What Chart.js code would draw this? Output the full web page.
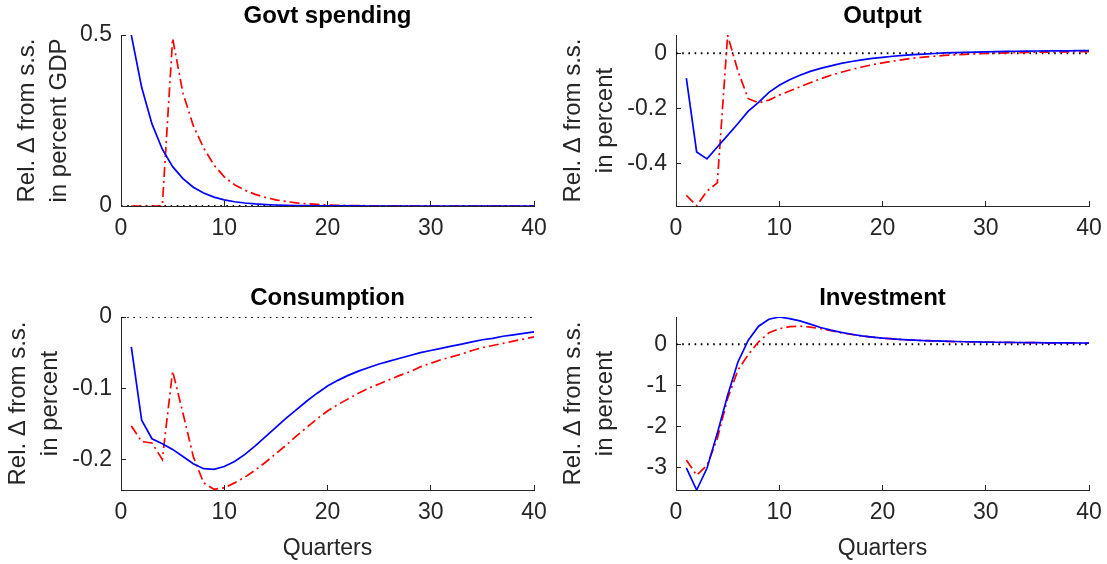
<!DOCTYPE html>
<html>
<head>
<meta charset="utf-8">
<script src="https://cdn.jsdelivr.net/npm/chart.js@4.4.1/dist/chart.umd.min.js"></script>
<style>
    body { margin: 0; background: #ffffff; }
    #fig { position: relative; width: 1107px; height: 564px; overflow: hidden; background: #ffffff; }
    #fig canvas { position: absolute; }
</style>
</head>
<body>
<div id="fig">
    <canvas id="govtChart" width="552" height="245" style="left:0px;top:0px;"></canvas>
    <canvas id="outputChart" width="552" height="245" style="left:555px;top:0px;"></canvas>
    <canvas id="consChart" width="552" height="282" style="left:0px;top:282px;"></canvas>
    <canvas id="invChart" width="552" height="282" style="left:555px;top:282px;"></canvas>
</div>
<script>
// Horizon (quarters)
const quarters = [1, 2, 3, 4, 5, 6, 7, 8, 9, 10, 11, 12, 13, 14, 15, 16, 17, 18, 19, 20,
    21, 22, 23, 24, 25, 26, 27, 28, 29, 30, 31, 32, 33, 34, 35, 36, 37, 38, 39, 40];
const xTicks = [0, 10, 20, 30, 40];

// Govt spending (blue = unanticipated, red = anticipated)
const govtBlue = [0.5, 0.347, 0.24, 0.166, 0.115, 0.08, 0.055, 0.038, 0.026, 0.018,
    0.0125, 0.0087, 0.006, 0.0042, 0.0029, 0.002, 0.0014, 0.001, 0.0007, 0.0005,
    0.0003, 0.0002, 0.0001, 0, 0, 0, 0, 0, 0, 0, 0, 0, 0, 0, 0, 0, 0, 0, 0, 0];
const govtRed = [0, 0, 0, 0, 0.49, 0.33, 0.235, 0.17, 0.12, 0.085,
    0.062, 0.046, 0.034, 0.025, 0.018, 0.013, 0.009, 0.0065, 0.0045, 0.003,
    0.002, 0.0014, 0.001, 0.0007, 0.0005, 0.0003, 0.0002, 0.0001, 0, 0, 0, 0, 0, 0, 0, 0, 0, 0, 0, 0];
const govtTicks = [0, 0.5];

// Output
const outputBlue = [-0.09, -0.358, -0.383, -0.34, -0.298, -0.255, -0.21, -0.178, -0.142, -0.116,
    -0.096, -0.08, -0.066, -0.055, -0.046, -0.037, -0.03, -0.024, -0.019, -0.015,
    -0.011, -0.008, -0.005, -0.003, -0.001, 0.001, 0.002, 0.003, 0.004, 0.005,
    0.006, 0.0065, 0.007, 0.0075, 0.008, 0.0082, 0.0085, 0.0088, 0.009, 0.009];
const outputRed = [-0.515, -0.554, -0.5, -0.47, 0.065, -0.065, -0.165, -0.18, -0.17, -0.152,
    -0.137, -0.122, -0.107, -0.093, -0.08, -0.069, -0.059, -0.05, -0.042, -0.035,
    -0.029, -0.023, -0.018, -0.014, -0.011, -0.008, -0.006, -0.004, -0.002, -0.001,
    0, 0.001, 0.002, 0.003, 0.0035, 0.004, 0.0045, 0.005, 0.0055, 0.006];
const outputTicks = [-0.4, -0.2, 0];

// Consumption
const consBlue = [-0.042, -0.145, -0.171, -0.178, -0.186, -0.196, -0.206, -0.213, -0.214, -0.21,
    -0.203, -0.193, -0.181, -0.168, -0.155, -0.142, -0.13, -0.118, -0.107, -0.097,
    -0.089, -0.082, -0.076, -0.071, -0.066, -0.062, -0.058, -0.054, -0.05, -0.047,
    -0.044, -0.041, -0.038, -0.035, -0.032, -0.03, -0.027, -0.025, -0.023, -0.021];
const consRed = [-0.153, -0.175, -0.177, -0.2, -0.076, -0.135, -0.196, -0.233, -0.242, -0.24,
    -0.233, -0.225, -0.215, -0.204, -0.192, -0.18, -0.167, -0.155, -0.143, -0.132,
    -0.123, -0.115, -0.107, -0.1, -0.094, -0.088, -0.082, -0.077, -0.07, -0.065,
    -0.06, -0.056, -0.052, -0.047, -0.043, -0.04, -0.037, -0.034, -0.031, -0.028];
const consTicks = [-0.2, -0.1, 0];

// Investment
const invBlue = [-3.01, -3.55, -3.02, -2.17, -1.24, -0.43, 0.1, 0.44, 0.61, 0.665,
    0.625, 0.57, 0.49, 0.41, 0.345, 0.29, 0.245, 0.205, 0.175, 0.15,
    0.13, 0.115, 0.1, 0.09, 0.082, 0.075, 0.068, 0.062, 0.058, 0.054,
    0.05, 0.047, 0.044, 0.041, 0.039, 0.037, 0.035, 0.033, 0.031, 0.03];
const invRed = [-2.82, -3.19, -2.95, -2.3, -1.32, -0.63, -0.25, 0.06, 0.28, 0.38,
    0.43, 0.44, 0.42, 0.38, 0.33, 0.28, 0.24, 0.205, 0.175, 0.15,
    0.13, 0.113, 0.1, 0.09, 0.081, 0.074, 0.067, 0.062, 0.057, 0.053,
    0.049, 0.046, 0.043, 0.04, 0.038, 0.036, 0.034, 0.032, 0.03, 0.029];
const invTicks = [-3, -2, -1, 0];

const axisColor = '#262626';
const fontFamily = '"Liberation Sans", Arial, Helvetica, sans-serif';

// Title drawn centred over the plot area (MATLAB style)
const panelTitle = {
    id: 'panelTitle',
    afterDraw(chart, args, opts) {
        const { ctx, chartArea } = chart;
        ctx.save();
        ctx.font = 'bold 24px ' + fontFamily;
        ctx.fillStyle = '#000000';
        ctx.textAlign = 'center';
        ctx.textBaseline = 'middle';
        ctx.fillText(opts.text, (chartArea.left + chartArea.right) / 2, opts.y);
        ctx.restore();
    }
};

function toPoints(values) {
    return values.map((v, i) => ({ x: quarters[i], y: v }));
}

function makePanel(id, cfg) {
    const ctx = document.getElementById(id);
    return new Chart(ctx, {
        type: 'line',
        data: {
            datasets: [
                {
                    data: toPoints(cfg.blue),
                    borderColor: '#0000ff',
                    borderWidth: 1.7,
                    pointRadius: 0,
                    tension: 0
                },
                {
                    data: toPoints(cfg.red),
                    borderColor: '#ff0000',
                    borderWidth: 1.7,
                    borderDash: [10, 4, 2, 4],
                    pointRadius: 0,
                    tension: 0
                },
                {
                    data: [{ x: 0, y: 0 }, { x: 40, y: 0 }],
                    borderColor: '#000000',
                    borderWidth: 2,
                    borderDash: [1.6, 4.6],
                    pointRadius: 0
                }
            ]
        },
        plugins: [panelTitle],
        options: {
            responsive: false,
            animation: false,
            devicePixelRatio: 1,
            layout: { padding: { top: 35, right: cfg.padRight, left: 0, bottom: 0 } },
            plugins: {
                legend: { display: false },
                tooltip: { enabled: false },
                panelTitle: { text: cfg.title, y: 16 }
            },
            scales: {
                x: {
                    type: 'linear',
                    min: 0,
                    max: 40,
                    afterBuildTicks: s => { s.ticks = xTicks.map(v => ({ value: v })); },
                    afterFit: s => {
                        s.height = cfg.xHeight;
                        s.paddingLeft = 0;
                        s.paddingRight = 0;
                    },
                    border: { display: true, color: axisColor, width: 1 },
                    grid: { drawOnChartArea: false, drawTicks: true, tickLength: -5, color: axisColor },
                    ticks: { color: axisColor, padding: 14, maxRotation: 0, font: { size: 23, family: fontFamily } },
                    title: {
                        display: !!cfg.xTitle,
                        text: cfg.xTitle || '',
                        color: axisColor,
                        padding: { top: 0, bottom: 2 },
                        font: { size: 23, family: fontFamily }
                    }
                },
                y: {
                    type: 'linear',
                    min: cfg.yMin,
                    max: cfg.yMax,
                    afterBuildTicks: s => { s.ticks = cfg.yTicks.map(v => ({ value: v })); },
                    afterFit: s => {
                        s.width = 121;
                        s.paddingTop = 0;
                        s.paddingBottom = 0;
                    },
                    border: { display: true, color: axisColor, width: 1 },
                    grid: { drawOnChartArea: false, drawTicks: true, tickLength: -5, color: axisColor },
                    ticks: {
                        color: axisColor,
                        padding: 14,
                        font: { size: 23, family: fontFamily },
                        callback: v => String(v)
                    },
                    title: {
                        display: true,
                        text: cfg.yTitle,
                        color: axisColor,
                        padding: { top: cfg.yTitlePad, bottom: 0 },
                        font: { size: 24, family: fontFamily, lineHeight: 1.333 }
                    }
                }
            }
        }
    });
}

makePanel('govtChart', {
    title: 'Govt spending', blue: govtBlue, red: govtRed,
    yMin: 0, yMax: 0.5, yTicks: govtTicks,
    yTitle: ['Rel. \u0394 from s.s.', 'in percent GDP'], yTitlePad: 11.5,
    padRight: 18, xHeight: 39
});
makePanel('outputChart', {
    title: 'Output', blue: outputBlue, red: outputRed,
    yMin: -0.554, yMax: 0.066, yTicks: outputTicks,
    yTitle: ['Rel. \u0394 from s.s.', 'in percent'], yTitlePad: 2.3,
    padRight: 18, xHeight: 39
});
makePanel('consChart', {
    title: 'Consumption', blue: consBlue, red: consRed,
    yMin: -0.243, yMax: 0, yTicks: consTicks,
    yTitle: ['Rel. \u0394 from s.s.', 'in percent'], yTitlePad: 2.3,
    padRight: 18, xHeight: 74, xTitle: 'Quarters'
});
makePanel('invChart', {
    title: 'Investment', blue: invBlue, red: invRed,
    yMin: -3.55, yMax: 0.665, yTicks: invTicks,
    yTitle: ['Rel. \u0394 from s.s.', 'in percent'], yTitlePad: 2.3,
    padRight: 18, xHeight: 74, xTitle: 'Quarters'
});
</script>
</body>
</html>
